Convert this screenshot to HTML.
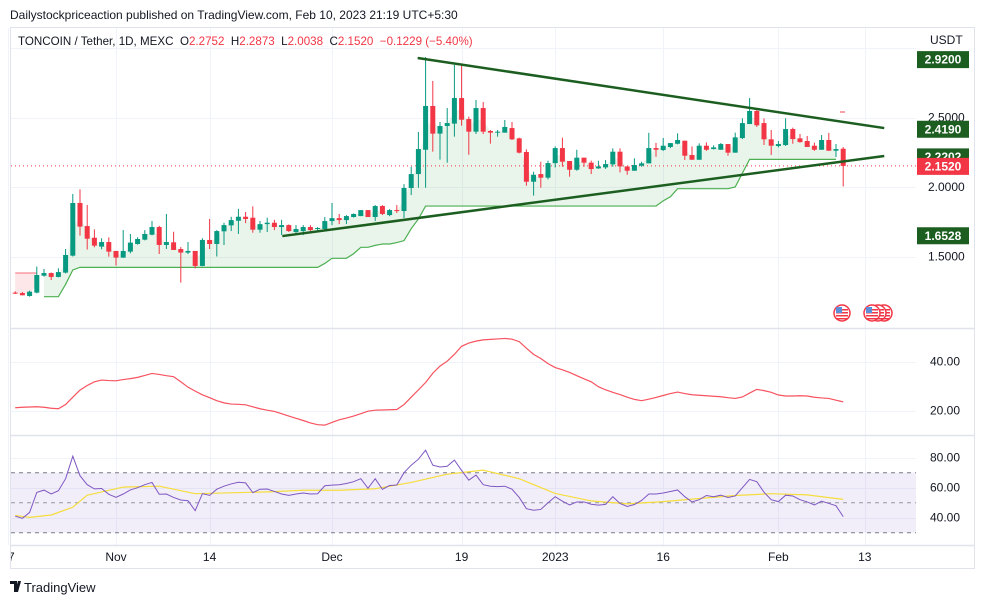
<!DOCTYPE html>
<html><head><meta charset="utf-8">
<style>
body{margin:0;background:#fff;width:984px;height:605px;overflow:hidden;font-family:"Liberation Sans",sans-serif;}
svg{position:absolute;left:0;top:0;}
text{font-family:"Liberation Sans",sans-serif;}
</style></head>
<body>
<svg id="c" width="984" height="605" viewBox="0 0 984 605"></svg>
<script>
const opens=[1.24,1.237,1.216,1.240,1.362,1.381,1.353,1.384,1.506,1.885,1.719,1.635,1.571,1.604,1.540,1.492,1.535,1.590,1.621,1.657,1.712,1.583,1.602,1.554,1.528,1.540,1.432,1.619,1.590,1.681,1.724,1.757,1.786,1.779,1.693,1.733,1.743,1.712,1.726,1.676,1.683,1.712,1.698,1.698,1.755,1.776,1.762,1.784,1.791,1.834,1.784,1.863,1.798,1.834,1.827,1.993,2.093,2.268,2.583,2.384,2.439,2.456,2.640,2.489,2.398,2.568,2.403,2.391,2.391,2.424,2.350,2.252,2.038,2.093,2.067,2.172,2.280,2.187,2.124,2.211,2.175,2.134,2.141,2.163,2.254,2.148,2.117,2.153,2.170,2.280,2.266,2.288,2.311,2.333,2.230,2.196,2.297,2.273,2.268,2.309,2.247,2.352,2.453,2.547,2.460,2.343,2.295,2.302,2.417,2.350,2.331,2.297,2.268,2.338,2.261,2.2752];
const highs=[1.25,1.245,1.254,1.427,1.410,1.385,1.415,1.554,1.950,1.983,1.871,1.695,1.631,1.638,1.540,1.690,1.662,1.638,1.690,1.755,1.721,1.806,1.678,1.568,1.604,1.540,1.631,1.770,1.690,1.743,1.786,1.843,1.820,1.861,1.755,1.779,1.764,1.764,1.731,1.726,1.726,1.726,1.712,1.784,1.885,1.806,1.798,1.810,1.834,1.834,1.870,1.870,1.841,1.870,2.021,2.146,2.396,2.935,2.763,2.468,2.568,2.878,2.885,2.506,2.626,2.611,2.410,2.410,2.482,2.468,2.355,2.271,2.110,2.182,2.189,2.292,2.355,2.187,2.268,2.211,2.190,2.189,2.194,2.278,2.278,2.148,2.206,2.182,2.390,2.317,2.353,2.316,2.386,2.333,2.292,2.314,2.321,2.300,2.316,2.309,2.391,2.494,2.640,2.561,2.494,2.410,2.331,2.494,2.427,2.381,2.367,2.319,2.374,2.389,2.309,2.2873];
const lows=[1.23,1.221,1.211,1.235,1.355,1.331,1.350,1.378,1.500,1.650,1.550,1.566,1.552,1.499,1.434,1.490,1.523,1.585,1.616,1.652,1.518,1.554,1.547,1.312,1.518,1.415,1.430,1.554,1.500,1.583,1.683,1.662,1.740,1.671,1.671,1.676,1.690,1.654,1.676,1.662,1.654,1.683,1.690,1.690,1.726,1.733,1.733,1.780,1.790,1.784,1.755,1.798,1.790,1.813,1.777,1.942,1.995,1.995,2.254,2.197,2.175,2.362,2.441,2.232,2.381,2.381,2.312,2.362,2.391,2.338,2.242,2.009,1.938,1.995,2.055,2.141,2.146,2.074,2.117,2.146,2.093,2.130,2.130,2.146,2.105,2.088,2.117,2.146,2.170,2.218,2.259,2.280,2.307,2.194,2.196,2.196,2.260,2.270,2.268,2.225,2.247,2.345,2.453,2.432,2.302,2.230,2.285,2.295,2.311,2.319,2.288,2.260,2.268,2.261,2.216,2.0038];
const closes=[1.235,1.221,1.247,1.367,1.381,1.353,1.388,1.511,1.885,1.715,1.628,1.578,1.604,1.535,1.492,1.540,1.600,1.626,1.662,1.712,1.583,1.604,1.547,1.528,1.540,1.432,1.619,1.590,1.683,1.726,1.762,1.786,1.770,1.693,1.733,1.743,1.712,1.726,1.683,1.698,1.712,1.690,1.705,1.755,1.776,1.762,1.791,1.806,1.834,1.784,1.863,1.806,1.834,1.827,1.993,2.093,2.273,2.583,2.384,2.439,2.460,2.640,2.484,2.398,2.568,2.398,2.391,2.398,2.432,2.343,2.247,2.038,2.088,2.067,2.172,2.280,2.182,2.124,2.211,2.175,2.129,2.148,2.165,2.254,2.148,2.117,2.158,2.170,2.280,2.268,2.297,2.316,2.338,2.225,2.196,2.297,2.268,2.285,2.309,2.247,2.357,2.460,2.547,2.444,2.343,2.297,2.309,2.417,2.345,2.323,2.288,2.268,2.338,2.261,2.273,2.1520];
const supertrend=[1.381,1.381,1.381,1.381,1.211,1.211,1.211,1.30,1.403,1.422,1.422,1.422,1.422,1.422,1.422,1.422,1.422,1.422,1.422,1.422,1.422,1.422,1.422,1.422,1.422,1.422,1.422,1.422,1.422,1.422,1.422,1.422,1.422,1.422,1.422,1.422,1.422,1.422,1.422,1.422,1.422,1.422,1.422,1.45,1.487,1.487,1.487,1.52,1.566,1.566,1.58,1.59,1.59,1.60,1.614,1.70,1.77,1.863,1.863,1.863,1.863,1.863,1.863,1.863,1.863,1.863,1.863,1.863,1.863,1.863,1.863,1.863,1.863,1.863,1.863,1.863,1.863,1.863,1.863,1.863,1.863,1.863,1.863,1.863,1.863,1.863,1.863,1.863,1.863,1.863,1.90,1.93,1.988,1.988,1.988,1.988,1.988,1.988,1.988,1.988,2.0,2.10,2.199,2.199,2.199,2.199,2.199,2.199,2.199,2.199,2.199,2.199,2.199,2.199,2.199,null];
const adx=[21.2,21.4,21.5,21.6,21.4,21,20.8,22.5,25.5,28.4,30.3,31.8,32.5,32.3,32.2,32.7,33.1,33.6,34.4,35.2,34.8,34.3,33.9,31.8,29.6,28,26.5,25.3,24.1,23.2,22.7,22.6,22.4,21.6,20.8,20.2,19.7,18.8,17.8,16.9,16,15,14.3,14.1,15.2,16.3,17,17.8,18.8,19.8,20.2,20.3,20.4,20.5,22.5,25.5,28.5,31.5,35.3,38.2,40.2,43,46.3,47.6,48.4,48.9,49.1,49.3,49.5,49.2,48.2,45.5,43,41.3,39.2,37.6,36.7,35.6,34.3,33,31.8,29.8,28.5,27.5,26.6,25.5,24.6,24.1,24.7,25.4,26.2,27,27.6,27,26.5,26.3,26.1,25.9,25.7,25.3,25,25.6,27.2,28.7,28.2,27.5,26.4,26,26,26.1,26,25.5,25.2,25,24.3,23.6];
const rsi=[41,39.6,43.5,56.9,58.4,55.8,58,66,81,68,62,59.2,59.5,55.6,53.6,55.8,58.5,60,62,63.5,55.6,55.8,53.5,51.8,51.3,44.7,56,54.9,59,61,62.5,63.6,63.2,56.7,59,59.1,57.5,55.8,54.9,55.8,56.5,55.8,56,61.3,61.7,62,62.8,64,66,59.6,66,58.9,61.5,61.8,70,75,79,85,75,73.8,74.3,78.4,71.5,65,68.4,62,61,60.7,61,59,53.5,46,45,45.5,50,54,51,48.5,50.5,50.5,49,48.4,48.9,54,49.5,47.5,48.8,51.5,55.8,55.8,56.5,57.5,58.5,54,50.5,52,54.8,54,55,53.5,54.5,60,65.5,64,57,52,50.7,55,54.5,52,50.5,48.5,51,49.5,48,40.7];
const rsiMaIdx=[0,2,5,8,10,15,20,25,30,35,40,45,50,55,60,65,70,75,80,85,90,95,100,105,110,115];
const rsiMaVal=[41.5,40.2,41.8,47,55,60.4,61,56,56.6,57.2,58.3,58.3,59.3,63.5,69,71.7,66,56.2,51.2,49.2,50.7,52.8,54.8,56,55.2,52.2];
const priceTicks=[2.5,2.0,1.5];
const adxTicks=[40,20];
const rsiTicks=[80,60,40];
const timeLabels=["17","Nov","14","Dec","19","2023","16","Feb","13"];
const timeDays=[-45,-30,-17,0,18,31,46,62,74];
const upperTrendDays=[11.9,76.7];
const upperTrendPrices=[2.928,2.424];
const lowerTrendDays=[-6.9,76.7];
const lowerTrendPrices=[1.647,2.223];
const priceBoxLabels=["2.9200","2.4190","2.2202","2.1520","1.6528"];
const priceBoxValues=[2.92,2.419,2.2202,2.152,1.6528];
const lastClose=2.152;

const NS="http://www.w3.org/2000/svg";
const svg=document.getElementById('c');
function el(t,a,p){const e=document.createElementNS(NS,t);for(const k in a)e.setAttribute(k,a[k]);(p||svg).appendChild(e);return e;}
const xDay=d=>332+7.2*d;
const xIdx=i=>xDay(i-44);
const yP=p=>465-p*139;
const yA=v=>410.7-(v-20)*2.45;
const yR=v=>517.7-(v-40)*1.5;

let t=el('text',{x:10,y:19,'font-size':12,fill:'#131722'});t.textContent='Dailystockpriceaction published on TradingView.com, Feb 10, 2023 21:19 UTC+5:30';

let fr=el('rect',{x:10.5,y:27.5,width:964,height:541,fill:'none',stroke:'#E0E3EB'});

const defs=el('defs',{});const cp=el('clipPath',{id:'pc'},defs);el('rect',{x:11,y:28,width:905,height:300},cp);
const cp2=el('clipPath',{id:'tc'},defs);el('rect',{x:11,y:545,width:905,height:23},cp2);

const grid=el('g',{stroke:'#F0F3FA','stroke-width':1});

timeDays.forEach(d=>{const x=Math.round(xDay(d))+0.5;el('line',{x1:x,x2:x,y1:28,y2:545},grid);});
[3.0].concat(priceTicks).forEach(p=>{const y=Math.round(yP(p))+0.5;el('line',{x1:11,x2:916,y1:y,y2:y},grid);});
adxTicks.forEach(v=>{const y=Math.round(yA(v))+0.5;el('line',{x1:11,x2:916,y1:y,y2:y},grid);});
rsiTicks.forEach(v=>{const y=Math.round(yR(v))+0.5;el('line',{x1:11,x2:916,y1:y,y2:y},grid);});
[328.5,435.5,545.5].forEach(y=>{const l=el('line',{x1:11,x2:974,y1:y,y2:y,stroke:'#E0E3EB','stroke-width':1.5});
});

const main=el('g',{'clip-path':'url(#pc)'});

let red=[],green=[];
supertrend.forEach((v,i)=>{if(v===null)return;const mid=(opens[i]+closes[i])/2;(i<4?red:green).push([xIdx(i),yP(v),yP(mid)]);});
function fillPath(arr){let d='M'+arr.map(a=>a[0]+','+a[1]).join(' L');d+=' L'+arr.slice().reverse().map(a=>a[0]+','+a[2]).join(' L')+'Z';return d;}
let f1=el('path',{d:fillPath(red),fill:'rgba(242,54,69,0.12)'},main);
let f2=el('path',{d:fillPath(green),fill:'rgba(76,175,80,0.12)'},main);
let l1=el('polyline',{points:red.map(a=>a[0]+','+a[1]).join(' '),fill:'none',stroke:'#F23645','stroke-width':1,opacity:0.7},main);

let l2=el('polyline',{points:green.map(a=>a[0]+','+a[1]).join(' '),fill:'none',stroke:'#4CAF50','stroke-width':1.2},main);

let lp=el('line',{x1:11,x2:916,y1:yP(lastClose),y2:yP(lastClose),stroke:'#F23645','stroke-dasharray':'1 3'},main);

opens.forEach((o,i)=>{const c=closes[i];const col=c>=o?'#089981':'#F23645';const x=xIdx(i);
const g=el('g',{},main);

el('line',{x1:x,x2:x,y1:yP(highs[i]),y2:yP(lows[i]),stroke:col,'stroke-width':1},g);
const yt=yP(Math.max(o,c)),yb=yP(Math.min(o,c));
el('rect',{x:x-2.5,y:yt,width:5,height:Math.max(1,yb-yt),fill:col},g);});
let tu=el('line',{x1:xDay(upperTrendDays[0]),y1:yP(upperTrendPrices[0]),x2:xDay(upperTrendDays[1]),y2:yP(upperTrendPrices[1]),stroke:'#1B5E20','stroke-width':2.5},main);

let tl=el('line',{x1:xDay(lowerTrendDays[0]),y1:yP(lowerTrendPrices[0]),x2:xDay(lowerTrendDays[1]),y2:yP(lowerTrendPrices[1]),stroke:'#1B5E20','stroke-width':2.5},main);

let pk=el('rect',{x:840,y:111,width:5,height:2,fill:'#F7A1A8'},main);

[[842,313],[872,313],[878,313],[884,313]].reverse().forEach(p=>{const g=el('g',{});

el('circle',{cx:p[0],cy:p[1],r:8,fill:'#fff',stroke:'#F23645','stroke-width':1.5},g);
for(let k=0;k<4;k++)el('rect',{x:p[0]-6,y:p[1]-4+k*3,width:12,height:1.5,fill:'#F23645'},g);
el('rect',{x:p[0]-6,y:p[1]-6,width:6,height:6,fill:'#5B8FD9'},g);});

let lg=el('text',{x:18,y:45,'font-size':11.6,fill:'#131722'});

const parts=[['TONCOIN / Tether, 1D, MEXC  ','#131722'],['O','#131722'],['2.2752  ','#F23645'],['H','#131722'],['2.2873  ','#F23645'],['L','#131722'],['2.0038  ','#F23645'],['C','#131722'],['2.1520  −0.1229 (−5.40%)','#F23645']];
parts.forEach(p=>{const s=el('tspan',{fill:p[1]},lg);s.textContent=p[0];});
lg.setAttribute('style','white-space:pre');

let u=el('text',{x:930,y:44,'font-size':12,fill:'#131722'});u.textContent='USDT';
priceTicks.forEach(p=>{const tt=el('text',{x:928,y:yP(p)+4,'font-size':12,fill:'#131722'});tt.textContent=p.toFixed(4);
});
priceBoxLabels.forEach((lab,i)=>{const y=yP(priceBoxValues[i]);const col=lab==='2.1520'?'#F23645':'#1B5E20';
const g=el('g',{});
el('rect',{x:917,y:y-8,width:52,height:17,fill:col},g);
const tt=el('text',{x:943,y:y+4.5,'font-size':12,'font-weight':'bold',fill:'#fff','text-anchor':'middle'},g);tt.textContent=lab;});

let ap=el('polyline',{points:adx.map((v,i)=>xIdx(i)+','+yA(v)).join(' '),fill:'none',stroke:'#F7525F','stroke-width':1.2});

adxTicks.forEach(v=>{const tt=el('text',{x:930,y:yA(v)+4,'font-size':12,fill:'#131722'});tt.textContent=v.toFixed(2);
});

let band=el('rect',{x:11,y:yR(70),width:905,height:yR(30)-yR(70),fill:'rgba(126,87,194,0.1)'});

[70,50,30].forEach(v=>{const l=el('line',{x1:11,x2:916,y1:yR(v),y2:yR(v),stroke:v===50?'#9598A1':'#787B86','stroke-dasharray':'4 4'});
});
let ma=el('polyline',{points:rsiMaIdx.map((ix,k)=>xIdx(ix)+','+yR(rsiMaVal[k])).join(' '),fill:'none',stroke:'#F5DD3C','stroke-width':1.2,'stroke-linejoin':'round'});

let rp=el('polyline',{points:rsi.map((v,i)=>xIdx(i)+','+yR(v)).join(' '),fill:'none',stroke:'#7E57C2','stroke-width':1});

rsiTicks.forEach(v=>{const tt=el('text',{x:930,y:yR(v)+4,'font-size':12,fill:'#131722'});tt.textContent=v.toFixed(2);
});

const ta=el('g',{'clip-path':'url(#tc)'});
timeLabels.forEach((lab,i)=>{const tt=el('text',{x:xDay(timeDays[i]),y:561,'font-size':12,fill:'#131722','text-anchor':'middle'},ta);tt.textContent=lab;
});

const lgG=el('g',{});
el('path',{d:'M10 581h7v11h-3v-8h-4z M18 581h3l-3 11h-3z',fill:'#131722'},lgG);
el('circle',{cx:19,cy:583,r:1.5,fill:'#131722'},lgG);
const ft=el('text',{x:24,y:592,'font-size':13,fill:'#131722'},lgG);ft.textContent='TradingView';
</script>
</body></html>
